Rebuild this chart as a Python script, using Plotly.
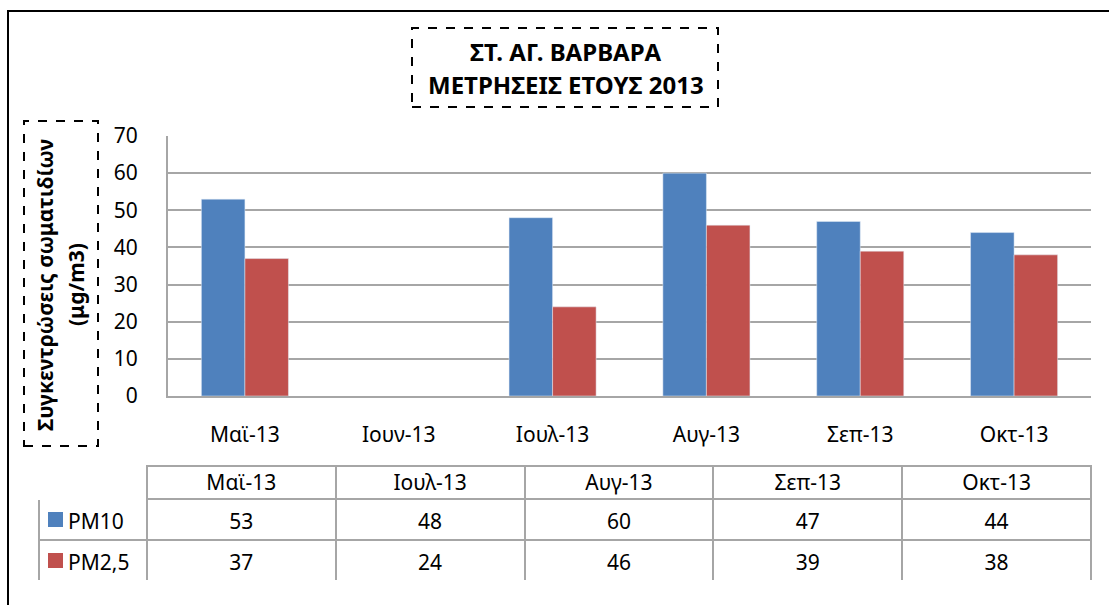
import plotly.graph_objects as go

# ---- data ----
months = ["Μαϊ-13", "Ιουν-13", "Ιουλ-13", "Αυγ-13", "Σεπ-13", "Οκτ-13"]
pm10 = [53, None, 48, 60, 47, 44]
pm25 = [37, None, 24, 46, 39, 38]
series_names = ["PM10", "PM2,5"]
title_lines = ["ΣΤ. ΑΓ. ΒΑΡΒΑΡΑ", "ΜΕΤΡΗΣΕΙΣ ΕΤΟΥΣ 2013"]
ytitle_lines = ["Συγκεντρώσεις σωματιδίων", "(μg/m3)"]
y_ticks = [0, 10, 20, 30, 40, 50, 60, 70]

BLUE = "#4F81BD"
RED = "#C0504D"
GRID = "#A6A6A6"
FONT = "Noto Sans"
FS = 21

W, H = 1109, 605


def px(x):
    return x / W


def py(y):
    return 1 - y / H


fig = go.Figure()
fig.add_trace(go.Bar(x=months, y=pm10, name=series_names[0], marker_color=BLUE))
fig.add_trace(go.Bar(x=months, y=pm25, name=series_names[1], marker_color=RED))

# data table (only months that have values)
tbl_months = [m for m, v in zip(months, pm10) if v is not None]
tbl_pm10 = [str(v) for v in pm10 if v is not None]
tbl_pm25 = [str(v) for v in pm25 if v is not None]
n = len(tbl_months)

first_col = ["\u2003" + series_names[0], "\u2003" + series_names[1]]
cols = [first_col] + [[a, b] for a, b in zip(tbl_pm10, tbl_pm25)]
empty_cols = [["", ""] for _ in cols]
colw = [108] + [189] * n
HDR_H, ROW_H, SHIFT = 33, 41, 6

# table grid + header text
fig.add_trace(go.Table(
    domain=dict(x=[px(39), px(1091)], y=[py(466 + HDR_H + 2 * ROW_H), py(466)]),
    columnwidth=colw,
    header=dict(
        values=[""] + tbl_months,
        height=HDR_H,
        align="center",
        fill_color="white",
        line=dict(color=["white"] + [GRID] * n, width=2),
        font=dict(family=FONT, size=FS, color="black"),
    ),
    cells=dict(
        values=empty_cols,
        height=ROW_H,
        fill_color="white",
        line=dict(color=GRID, width=2),
        font=dict(family=FONT, size=FS, color="black"),
    ),
))
# row text, vertically centred in the rows
fig.add_trace(go.Table(
    domain=dict(x=[px(39), px(1091)],
                y=[py(466 + HDR_H + SHIFT + 2 * ROW_H + 2), py(466)]),
    columnwidth=colw,
    header=dict(
        values=[""] * len(cols),
        height=HDR_H + SHIFT,
        fill_color="rgba(0,0,0,0)",
        line=dict(color="rgba(0,0,0,0)", width=0),
    ),
    cells=dict(
        values=cols,
        height=ROW_H,
        align=["left"] + ["center"] * n,
        fill_color="rgba(0,0,0,0)",
        line=dict(color="rgba(0,0,0,0)", width=0),
        font=dict(family=FONT, size=FS, color="black"),
    ),
))

fig.update_layout(
    width=W, height=H,
    autosize=False,
    margin=dict(l=0, r=0, t=0, b=0, pad=0),
    paper_bgcolor="white",
    plot_bgcolor="white",
    showlegend=False,
    barmode="group",
    bargap=0.434,
    bargroupgap=0,
    font=dict(family=FONT, size=FS, color="black"),
    xaxis=dict(
        domain=[px(168), px(1091)],
        automargin=False,
        showgrid=False,
        showline=True, linecolor=GRID, linewidth=2,
        ticks="", tickfont=dict(size=FS),
        ticklabelstandoff=19,
        fixedrange=True,
    ),
    yaxis=dict(
        domain=[py(396), py(136)],
        automargin=False,
        range=[0, 70],
        tickvals=y_ticks,
        showgrid=True, gridcolor=GRID, gridwidth=2,
        showline=True, linecolor=GRID, linewidth=2,
        zeroline=False,
        ticks="", tickfont=dict(size=FS),
        ticklabelstandoff=24,
        fixedrange=True,
    ),
)

shapes = [
    # outer chart border
    dict(type="rect", xref="paper", yref="paper",
         x0=px(8), x1=px(1120), y0=py(620), y1=py(11),
         line=dict(color="black", width=2), layer="below"),
    # title dashed box
    dict(type="rect", xref="paper", yref="paper",
         x0=px(412), x1=px(718), y0=py(107), y1=py(28),
         line=dict(color="black", width=2, dash="dash")),
    # y title dashed box
    dict(type="rect", xref="paper", yref="paper",
         x0=px(24), x1=px(98), y0=py(446), y1=py(121),
         line=dict(color="black", width=2, dash="dash")),
    # legend keys in the table
    dict(type="rect", xref="paper", yref="paper",
         x0=px(48), x1=px(63), y0=py(527), y1=py(512),
         fillcolor=BLUE, line=dict(width=0)),
    dict(type="rect", xref="paper", yref="paper",
         x0=px(48), x1=px(63), y0=py(568), y1=py(553),
         fillcolor=RED, line=dict(width=0)),
]
fig.update_layout(shapes=shapes)

for line, yc in zip(title_lines, [51, 85]):
    fig.add_annotation(
        xref="paper", yref="paper", x=px(566), y=py(yc),
        xanchor="center", yanchor="middle",
        text="<b>" + line + "</b>",
        showarrow=False, font=dict(family=FONT, size=24, color="black"),
    )
for line, xc in zip(ytitle_lines, [45, 76]):
    fig.add_annotation(
        xref="paper", yref="paper", x=px(xc), y=py(285),
        xanchor="center", yanchor="middle",
        text="<b>" + line + "</b>",
        textangle=-90,
        showarrow=False, font=dict(family=FONT, size=21, color="black"),
    )

fig.write_html(
    "out.html",
    config={"displayModeBar": False, "responsive": False},
    post_script="document.body.style.margin='0';",
)
